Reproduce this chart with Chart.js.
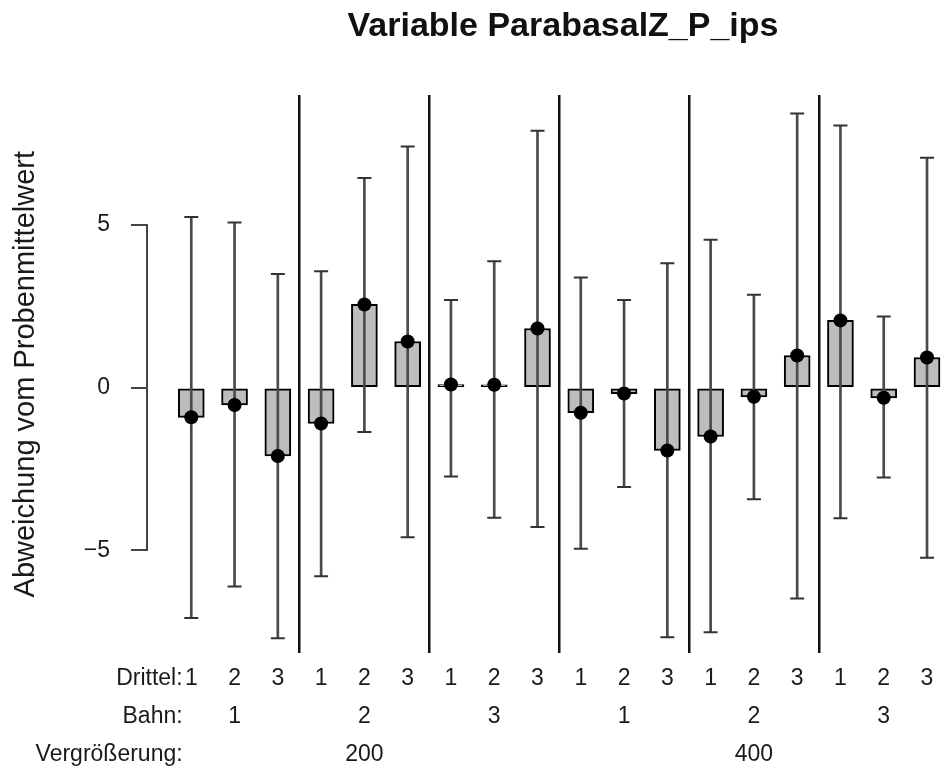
<!DOCTYPE html>
<html>
<head>
<meta charset="utf-8">
<script src="https://cdn.jsdelivr.net/npm/chart.js@4.4.1/dist/chart.umd.min.js"></script>
<style>
html, body { margin: 0; padding: 0; overflow: hidden; background: #fff; }
canvas { display: block; }
</style>
</head>
<body>
<canvas id="chart" width="1126" height="773"></canvas>
<script>
// labels of the three rows under the bars
var drittel = ['1','2','3','1','2','3','1','2','3','1','2','3','1','2','3','1','2','3'];
var bahn = ['1','2','3','1','2','3'];
var vergroesserung = ['200','400'];
var rowNames = ['Drittel:', 'Bahn:', 'Vergrößerung:'];

// deviation from sample mean, with lower / upper end of the error bars
var means = [-0.91, -0.53, -2.10, -1.10, 2.56, 1.42, 0.10, 0.09, 1.82, -0.77, -0.18, -1.93, -1.50, -0.28, 0.99, 2.07, -0.31, 0.93];
var upper = [5.25, 5.08, 3.50, 3.58, 6.45, 7.42, 2.70, 3.89, 7.90, 3.39, 2.70, 3.83, 4.55, 2.86, 8.43, 8.06, 2.19, 7.07];
var lower = [-7.08, -6.11, -7.70, -5.80, -1.36, -4.60, -2.73, -4.00, -4.28, -4.95, -3.05, -7.67, -7.52, -3.43, -6.48, -4.01, -2.76, -5.23];

var yTicks = [-5, 0, 5];

var fontFamily = '"Liberation Sans", Arial, sans-serif';
var textColor = '#1a1a1a';

// bar i sits at x = i + 1, group borders between every third bar
var pos = drittel.map(function (d, i) { return i + 1; });
var groupEdges = bahn.map(function (b, g) { return g * 3 + 0.5; }).slice(1);

function barLabel(i) {
    var lines = [drittel[i]];
    if (i % 3 === 1) lines.push(bahn[Math.floor(i / 3)]);
    if (i % 9 === 4) lines.push(vergroesserung[Math.floor(i / 9)]);
    return lines;
}

function points(values) {
    return pos.map(function (x, i) { return {x: x, y: values[i]}; });
}

// R style y axis line, only from lowest to highest tick
var yAxisLine = {
    id: 'yAxisLine',
    afterDraw: function (chart) {
        var y = chart.scales.y;
        var ctx = chart.ctx;
        var t = y.ticks;
        ctx.save();
        ctx.strokeStyle = '#444';
        ctx.lineWidth = 2;
        ctx.beginPath();
        ctx.moveTo(y.right - 1, y.getPixelForValue(t[0].value));
        ctx.lineTo(y.right - 1, y.getPixelForValue(t[t.length - 1].value));
        ctx.stroke();
        ctx.restore();
    }
};

var ctx = document.getElementById('chart');

var chart = new Chart(ctx, {
    type: 'bar',
    data: {
        datasets: [
            {
                type: 'bar',
                data: points(means),
                backgroundColor: '#bdbdbd',
                borderColor: '#000',
                borderWidth: 2,
                borderSkipped: false,
                barThickness: 26,
                grouped: false,
                order: 4
            },
            {
                type: 'bar',
                data: pos.map(function (x, i) { return {x: x, y: [lower[i], upper[i]]}; }),
                backgroundColor: '#4a4a4a',
                borderWidth: 0,
                barThickness: 2,
                grouped: false,
                order: 3
            },
            {
                type: 'scatter',
                data: points(lower).concat(points(upper)),
                pointStyle: 'line',
                pointRadius: 7,
                pointHoverRadius: 7,
                pointBorderWidth: 2,
                pointBorderColor: '#333',
                order: 2
            },
            {
                type: 'scatter',
                data: points(means),
                pointRadius: 7,
                pointHoverRadius: 7,
                pointBackgroundColor: '#000',
                pointBorderWidth: 0,
                order: 1
            }
        ]
    },
    options: {
        responsive: false,
        animation: false,
        events: [],
        layout: { padding: { left: 0, right: 0, top: 0, bottom: -7 } },
        plugins: {
            legend: { display: false },
            tooltip: { enabled: false },
            title: {
                display: true,
                text: 'Variable ParabasalZ_P_ips',
                color: '#111',
                font: { family: fontFamily, size: 34, weight: 'bold', lineHeight: 1.2 },
                padding: { top: 6, bottom: 48.2 }
            }
        },
        scales: {
            x: {
                type: 'linear',
                min: 0,
                max: 22.39,
                offset: false,
                afterBuildTicks: function (scale) {
                    scale.ticks = groupEdges.map(function (v) { return {value: v}; });
                },
                grid: { offset: false, color: '#111', lineWidth: 2.5, drawTicks: false },
                border: { display: false },
                ticks: { display: false }
            },
            x2: {
                type: 'linear',
                position: 'bottom',
                min: 0,
                max: 22.39,
                offset: false,
                afterBuildTicks: function (scale) {
                    var t = [{value: 0.2}];
                    pos.forEach(function (v) { t.push({value: v}); });
                    t.push({value: 0.8});
                    scale.ticks = t;
                },
                grid: { display: false, drawTicks: false },
                border: { display: false },
                ticks: {
                    autoSkip: false,
                    maxRotation: 0,
                    minRotation: 0,
                    align: 'inner',
                    padding: 6.6,
                    color: textColor,
                    font: { family: fontFamily, size: 23, lineHeight: 1.643 },
                    callback: function (value, index, ticks) {
                        if (index === 0) return '';
                        if (index === ticks.length - 1) return rowNames;
                        return barLabel(index - 1);
                    }
                }
            },
            y: {
                min: -8.17,
                max: 9.0,
                afterBuildTicks: function (scale) {
                    scale.ticks = yTicks.map(function (v) { return {value: v}; });
                },
                afterFit: function (scale) { scale.width = 148; },
                grid: { drawOnChartArea: false, drawTicks: true, tickLength: 17, color: '#444', lineWidth: 2 },
                border: { display: false },
                ticks: {
                    padding: 21,
                    color: textColor,
                    font: { family: fontFamily, size: 23 },
                    callback: function (v) { return v < 0 ? '\u2212' + Math.abs(v) : String(v); }
                },
                title: {
                    display: true,
                    text: 'Abweichung vom Probenmittelwert',
                    color: textColor,
                    font: { family: fontFamily, size: 29 },
                    padding: { top: 9, bottom: 0 }
                }
            }
        }
    },
    plugins: [yAxisLine]
});
</script>
</body>
</html>
